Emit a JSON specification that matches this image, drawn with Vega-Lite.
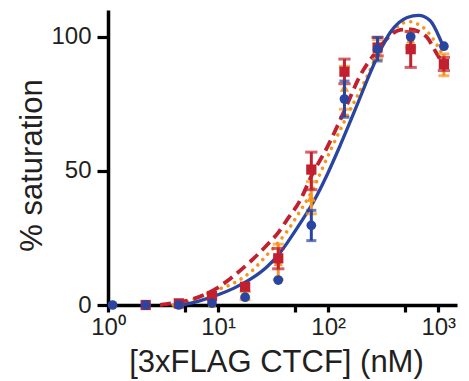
{
  "$schema": "https://vega.github.io/schema/vega-lite/v6.json",
  "width": 349,
  "height": 295,
  "autosize": {"type": "none"},
  "padding": {"left": 108, "top": 10, "right": 12, "bottom": 76},
  "background": "white",
  "config": {
    "view": {"stroke": null},
    "font": "Liberation Sans",
    "axis": {
      "domainColor": "#000000",
      "domainWidth": 3.5,
      "tickColor": "#000000",
      "tickWidth": 3.2,
      "labelColor": "#231f20",
      "titleColor": "#231f20",
      "labelFont": "Liberation Sans",
      "titleFont": "Liberation Sans",
      "labelFontSize": 24,
      "titleFontSize": 31,
      "titleFontWeight": "normal",
      "grid": false
    }
  },
  "datasets": {
    "fit": [
      {"s": "B", "c": 3.9, "v": 0}, {"s": "B", "c": 5.5, "v": 1.5}, {"s": "B", "c": 7.9, "v": 4.3}, {"s": "B", "c": 10, "v": 5.8},
      {"s": "B", "c": 13.8, "v": 8.1}, {"s": "B", "c": 20, "v": 12.5}, {"s": "B", "c": 27.7, "v": 18.6}, {"s": "B", "c": 42, "v": 27.3},
      {"s": "B", "c": 55.6, "v": 35}, {"s": "B", "c": 70.3, "v": 42}, {"s": "B", "c": 104.5, "v": 57.5}, {"s": "B", "c": 140.6, "v": 68.5},
      {"s": "B", "c": 216, "v": 83.6}, {"s": "B", "c": 281, "v": 93.5}, {"s": "B", "c": 366, "v": 101}, {"s": "B", "c": 484, "v": 105.2},
      {"s": "B", "c": 562, "v": 105.6}, {"s": "B", "c": 640, "v": 104.9}, {"s": "B", "c": 790, "v": 102.2}, {"s": "B", "c": 973, "v": 97},
      {"s": "B", "c": 1125, "v": 92.5},
      {"s": "C", "c": 2.97, "v": 0}, {"s": "C", "c": 4.0, "v": 0.8}, {"s": "C", "c": 5.56, "v": 1.9}, {"s": "C", "c": 7.5, "v": 3.8},
      {"s": "C", "c": 9.7, "v": 6.2}, {"s": "C", "c": 13.8, "v": 10.8}, {"s": "C", "c": 20, "v": 16.5}, {"s": "C", "c": 27.7, "v": 22.3},
      {"s": "C", "c": 35.2, "v": 27}, {"s": "C", "c": 42, "v": 31.6}, {"s": "C", "c": 55.6, "v": 39}, {"s": "C", "c": 70.3, "v": 48},
      {"s": "C", "c": 100, "v": 59.5}, {"s": "C", "c": 140.6, "v": 72.5}, {"s": "C", "c": 195, "v": 85.5}, {"s": "C", "c": 281, "v": 95},
      {"s": "C", "c": 366, "v": 100.5}, {"s": "C", "c": 450, "v": 102.6}, {"s": "C", "c": 562, "v": 102.8}, {"s": "C", "c": 660, "v": 102},
      {"s": "C", "c": 790, "v": 99.8}, {"s": "C", "c": 973, "v": 93.6}, {"s": "C", "c": 1125, "v": 89.5},
      {"s": "A", "c": 4.8, "v": 0}, {"s": "A", "c": 6.9, "v": 1.6}, {"s": "A", "c": 10, "v": 3.8}, {"s": "A", "c": 13.8, "v": 6.2},
      {"s": "A", "c": 20, "v": 9.8}, {"s": "A", "c": 27.7, "v": 14.2}, {"s": "A", "c": 35, "v": 18.5}, {"s": "A", "c": 42, "v": 22.9},
      {"s": "A", "c": 55.6, "v": 30.4}, {"s": "A", "c": 73.6, "v": 38.5}, {"s": "A", "c": 97.6, "v": 48.5}, {"s": "A", "c": 128.5, "v": 59.5},
      {"s": "A", "c": 182, "v": 74.3}, {"s": "A", "c": 232, "v": 85}, {"s": "A", "c": 290, "v": 94}, {"s": "A", "c": 366, "v": 101.6},
      {"s": "A", "c": 440, "v": 105.3}, {"s": "A", "c": 522, "v": 107.2}, {"s": "A", "c": 663, "v": 108}, {"s": "A", "c": 846, "v": 106},
      {"s": "A", "c": 1041, "v": 99.1}, {"s": "A", "c": 1120, "v": 96}
    ],
    "pts": [
      {"s": "B", "c": 4.4, "y": 0, "lo": null, "hi": null},
      {"s": "B", "c": 8.8, "y": 0.5, "lo": null, "hi": null},
      {"s": "B", "c": 17.6, "y": 3.5, "lo": 2, "hi": 5},
      {"s": "B", "c": 35.2, "y": 16, "lo": 9.5, "hi": 22.7},
      {"s": "B", "c": 70.3, "y": 40, "lo": 34, "hi": 46},
      {"s": "B", "c": 140.6, "y": 81, "lo": 73, "hi": 89},
      {"s": "B", "c": 281, "y": 95, "lo": 91.7, "hi": 99},
      {"s": "B", "c": 562, "y": 99, "lo": 96, "hi": 102},
      {"s": "B", "c": 1125, "y": 89.5, "lo": 85.5, "hi": 93.6},
      {"s": "C", "c": 2.2, "y": 0, "lo": null, "hi": null},
      {"s": "C", "c": 4.4, "y": 0.6, "lo": null, "hi": null},
      {"s": "C", "c": 8.8, "y": 3.3, "lo": null, "hi": null},
      {"s": "C", "c": 17.6, "y": 6.8, "lo": null, "hi": null},
      {"s": "C", "c": 35.2, "y": 17.4, "lo": 13.5, "hi": 21.1},
      {"s": "C", "c": 70.3, "y": 50.5, "lo": 43, "hi": 57},
      {"s": "C", "c": 140.6, "y": 87, "lo": 82.5, "hi": 91.7},
      {"s": "C", "c": 281, "y": 96, "lo": 92.9, "hi": 99.8},
      {"s": "C", "c": 562, "y": 95.4, "lo": 88.6, "hi": 102},
      {"s": "C", "c": 1125, "y": 89.8, "lo": 87.4, "hi": 92.3},
      {"s": "A", "c": 1.1, "y": 0, "lo": null, "hi": null},
      {"s": "A", "c": 2.2, "y": 0, "lo": null, "hi": null},
      {"s": "A", "c": 4.4, "y": 0, "lo": null, "hi": null},
      {"s": "A", "c": 8.8, "y": 0.7, "lo": null, "hi": null},
      {"s": "A", "c": 17.6, "y": 2.9, "lo": null, "hi": null},
      {"s": "A", "c": 35.2, "y": 9.3, "lo": null, "hi": null},
      {"s": "A", "c": 70.3, "y": 29.7, "lo": 24, "hi": 35.3},
      {"s": "A", "c": 140.6, "y": 76.8, "lo": 70, "hi": 83.5},
      {"s": "A", "c": 281, "y": 95.4, "lo": 91, "hi": 99.8},
      {"s": "A", "c": 562, "y": 100, "lo": null, "hi": null},
      {"s": "A", "c": 1125, "y": 96.5, "lo": null, "hi": null}
    ]
  },
  "layer": [
    {
      "data": {"name": "fit"},
      "transform": [{"filter": "datum.s == 'B'"}],
      "mark": {"type": "line", "color": "#f7941d", "strokeWidth": 3.6, "strokeDash": [0.01, 7.3], "strokeCap": "round", "interpolate": "monotone", "clip": false},
      "encoding": {
        "x": {"field": "c", "type": "quantitative", "scale": {"type": "log", "domain": [1, 1480], "nice": false},
          "axis": {"values": [1, 5, 10, 50, 100, 500, 1000], "labelExpr": "datum.value == 1 ? '10⁰' : datum.value == 10 ? '10¹' : datum.value == 100 ? '10²' : datum.value == 1000 ? '10³' : ''",
            "labelFlush": false, "labelOverlap": false, "tickSize": 7, "labelPadding": 3, "title": "[3xFLAG CTCF] (nM)", "titlePadding": 8, "titleX": 168, "titleAnchor": "middle", "titleAlign": "center"}},
        "y": {"field": "v", "type": "quantitative", "scale": {"domain": [0, 110], "nice": false, "zero": false},
          "axis": {"values": [0, 50, 100], "tickSize": 11, "labelPadding": 6, "title": "% saturation", "titlePadding": 2, "titleY": 155, "titleAnchor": "middle", "titleAlign": "center"}}
      }
    },
    {
      "data": {"name": "fit"},
      "transform": [{"filter": "datum.s == 'C'"}],
      "mark": {"type": "line", "color": "#c1202f", "strokeWidth": 3.8, "strokeDash": [11, 6], "interpolate": "monotone", "clip": false},
      "encoding": {
        "x": {"field": "c", "type": "quantitative"},
        "y": {"field": "v", "type": "quantitative"}
      }
    },
    {
      "data": {"name": "fit"},
      "transform": [{"filter": "datum.s == 'A'"}],
      "mark": {"type": "line", "color": "#2a45a0", "strokeWidth": 3.3, "interpolate": "monotone", "clip": false},
      "encoding": {
        "x": {"field": "c", "type": "quantitative"},
        "y": {"field": "v", "type": "quantitative"}
      }
    },
    {
      "data": {"name": "pts"},
      "transform": [{"filter": "datum.s == 'B' && datum.lo != null"}],
      "mark": {"type": "rule", "color": "#f7941d", "strokeWidth": 3},
      "encoding": {"x": {"field": "c", "type": "quantitative"}, "y": {"field": "lo", "type": "quantitative"}, "y2": {"field": "hi"}}
    },
    {
      "data": {"name": "pts"},
      "transform": [{"filter": "datum.s == 'B' && datum.lo != null"}, {"fold": ["lo", "hi"], "as": ["k", "e"]}],
      "mark": {"type": "point", "shape": "M-1,0H1", "filled": false, "color": "#f7941d", "strokeWidth": 3, "size": 120},
      "encoding": {"x": {"field": "c", "type": "quantitative"}, "y": {"field": "e", "type": "quantitative"}}
    },
    {
      "data": {"name": "pts"},
      "transform": [{"filter": "datum.s == 'B'"}],
      "mark": {"type": "point", "shape": "triangle-up", "filled": true, "color": "#f7941d", "size": 85, "opacity": 1, "clip": false},
      "encoding": {"x": {"field": "c", "type": "quantitative"}, "y": {"field": "y", "type": "quantitative"}}
    },
    {
      "data": {"name": "pts"},
      "transform": [{"filter": "datum.s == 'C' && datum.lo != null"}],
      "mark": {"type": "rule", "color": "#c1202f", "strokeWidth": 3},
      "encoding": {"x": {"field": "c", "type": "quantitative"}, "y": {"field": "lo", "type": "quantitative"}, "y2": {"field": "hi"}}
    },
    {
      "data": {"name": "pts"},
      "transform": [{"filter": "datum.s == 'C' && datum.lo != null"}, {"fold": ["lo", "hi"], "as": ["k", "e"]}],
      "mark": {"type": "point", "shape": "M-1,0H1", "filled": false, "color": "#c1202f", "strokeWidth": 3, "size": 150},
      "encoding": {"x": {"field": "c", "type": "quantitative"}, "y": {"field": "e", "type": "quantitative"}}
    },
    {
      "data": {"name": "pts"},
      "transform": [{"filter": "datum.s == 'C'"}],
      "mark": {"type": "point", "shape": "square", "filled": true, "color": "#c1202f", "size": 105, "opacity": 1, "clip": false},
      "encoding": {"x": {"field": "c", "type": "quantitative"}, "y": {"field": "y", "type": "quantitative"}}
    },
    {
      "data": {"name": "pts"},
      "transform": [{"filter": "datum.s == 'A' && datum.lo != null"}],
      "mark": {"type": "rule", "color": "#2a45a0", "strokeWidth": 3},
      "encoding": {"x": {"field": "c", "type": "quantitative"}, "y": {"field": "lo", "type": "quantitative"}, "y2": {"field": "hi"}}
    },
    {
      "data": {"name": "pts"},
      "transform": [{"filter": "datum.s == 'A' && datum.lo != null"}, {"fold": ["lo", "hi"], "as": ["k", "e"]}],
      "mark": {"type": "point", "shape": "M-1,0H1", "filled": false, "color": "#2a45a0", "strokeWidth": 3, "size": 100},
      "encoding": {"x": {"field": "c", "type": "quantitative"}, "y": {"field": "e", "type": "quantitative"}}
    },
    {
      "data": {"name": "pts"},
      "transform": [{"filter": "datum.s == 'A'"}],
      "mark": {"type": "point", "shape": "circle", "filled": true, "color": "#2a45a0", "size": 95, "opacity": 1, "clip": false},
      "encoding": {"x": {"field": "c", "type": "quantitative"}, "y": {"field": "y", "type": "quantitative"}}
    }
  ]
}
